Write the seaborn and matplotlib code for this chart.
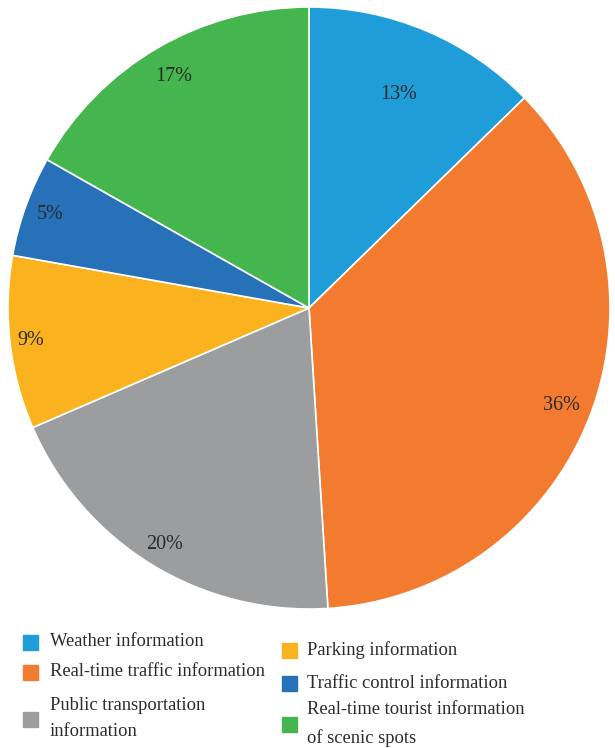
import numpy as np
import matplotlib.pyplot as plt
from matplotlib.patches import Rectangle
import seaborn as sns

# Slice data (clockwise from 12 o'clock)
categories = [
    "Weather information",
    "Real-time traffic information",
    "Public transportation\ninformation",
    "Parking information",
    "Traffic control information",
    "Real-time tourist information\nof scenic spots",
]
shares = [12.7, 36.3, 19.5, 9.3, 5.4, 16.8]
pct_labels = ["13%", "36%", "20%", "9%", "5%", "17%"]
colors = ["#1f9dd8", "#f37b2f", "#9b9d9e", "#fab31e", "#2771b8", "#45b64e"]

sns.set_theme(style="white")
plt.rcParams["font.family"] = ["Liberation Serif", "DejaVu Serif"]

fig = plt.figure(figsize=(6.15, 7.48), dpi=100)

# Pie area: centre ~(309, 308) px, radius ~301 px
W, H = 615, 748
cx, cy, r = 309, 308, 301
ax = fig.add_axes([(cx - r) / W, 1 - (cy + r) / H, 2 * r / W, 2 * r / H])

palette = sns.color_palette(colors)
wedges, _ = ax.pie(
    shares,
    colors=palette,
    startangle=90,
    counterclock=False,
    wedgeprops=dict(edgecolor="white", linewidth=1.2),
)
ax.set_xlim(-1, 1)
ax.set_ylim(-1, 1)
ax.set_aspect("equal")

# Percentage labels placed at the wedge mid angles
label_dist = [0.77, 0.9, 0.92, 0.93, 0.915, 0.89]
for w, txt, d in zip(wedges, pct_labels, label_dist):
    mid = np.deg2rad((w.theta1 + w.theta2) / 2)
    ax.text(d * np.cos(mid), d * np.sin(mid), txt, ha="center", va="center",
            fontsize=14.5, color="#2b2b2b")

# Legend drawn in pixel coordinates below the pie
lax = fig.add_axes([0, 0, 1, 1 - 615 / H])
lax.set_xlim(0, W)
lax.set_ylim(H, 615)
lax.axis("off")

legend_pos = [
    (30, 50, 642, [642]),
    (30, 50, 672, [672]),
    (30, 50, 719, [705, 731]),
    (289, 307, 650, [650]),
    (289, 307, 683, [683]),
    (289, 307, 724, [710, 738]),
]
sq = 15
for (mx, tx, my, tys), name, c in zip(legend_pos, categories, palette):
    lax.add_patch(Rectangle((mx - sq / 2, my - sq / 2), sq, sq, color=c))
    for line, ty in zip(name.split("\n"), tys):
        lax.text(tx, ty, line, ha="left", va="center", fontsize=13.3, color="#2b2b2b")

fig.savefig("out.png", dpi=100)
